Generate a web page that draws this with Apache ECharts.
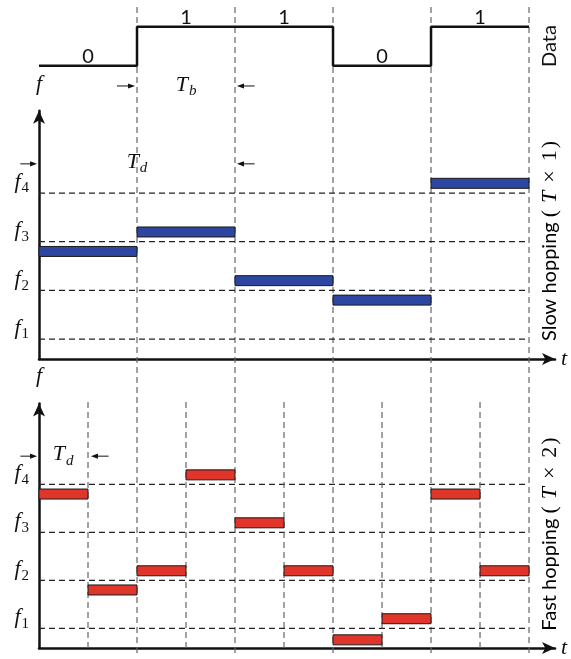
<!DOCTYPE html>
<html><head><meta charset="utf-8">
<script src="https://cdn.jsdelivr.net/npm/echarts@6/dist/echarts.min.js"></script>
<style>html,body{margin:0;padding:0;background:#fff}#c{width:571px;height:659px}</style>
</head><body><div id="c"></div>
<script>
// ---------------- data ----------------
const bits = [0, 1, 1, 0, 1];
const bitBoundaries = [1, 2, 3, 4, 5];
const halfBitBoundaries = [0.5, 1.5, 2.5, 3.5, 4.5];
const freqLevels = [1, 2, 3, 4];
const freqLabels = ['1', '2', '3', '4'];
const slowHopDuration = 1;
const slowHops = [2.8, 3.2, 2.2, 1.8, 4.2];
const fastHopDuration = 0.5;
const fastHops = [3.8, 1.8, 2.2, 4.2, 3.2, 2.2, 0.76, 1.2, 3.8, 2.2];
// annotation markers: [tFrom, tTo, level]
const tbArrows = [[0.796, 0.98, -0.52], [2.2, 2.02, -0.52]];
const tbText = [1.5, -0.52];
const slowTdArrows = [[-0.19, -0.02, 4.6], [2.2, 2.02, 4.6]];
const slowTdText = [1.0, 4.62];
const fastTdArrows = [[-0.19, -0.02, 4.59], [0.71, 0.53, 4.59]];
const fastTdText = [0.245, 4.6];

// ---------------- layout ----------------
const SERIF = '"Liberation Serif", "DejaVu Serif", serif';
const SANS = 'Lato, "Open Sans", sans-serif';
const X_MAX = 5.265;
const Y_MIN = 0.59, Y_MAX = 5.69;
const HALF_TOP = 5.72;
const LEFT = 39, RIGHT = 16;
const INK = '#111';

const mathRich = {
  i: { fontFamily: SERIF, fontStyle: 'italic', fontSize: 22, color: INK, lineHeight: 24, verticalAlign: 'top' },
  s: { fontFamily: SERIF, fontSize: 15, color: INK, lineHeight: 14, padding: [10, 0, 0, 1], verticalAlign: 'top' },
  si: { fontFamily: SERIF, fontStyle: 'italic', fontSize: 15, color: INK, lineHeight: 14, padding: [10, 0, 0, 1], verticalAlign: 'top' }
};
const sideRich = {
  a: { fontFamily: SANS, fontSize: 20, color: INK, padding: [0, 5, 0, 0] },
  b: { fontFamily: SERIF, fontSize: 22, color: INK },
  c: { fontFamily: SERIF, fontStyle: 'italic', fontSize: 22, color: INK, padding: [0, 8, 0, 7] },
  x: { fontFamily: SERIF, fontSize: 22, color: INK, padding: [0, 9, 0, 0] },
  e: { fontFamily: SERIF, fontSize: 22, color: INK, padding: [0, 0, 0, 2] }
};

const chart = echarts.init(document.getElementById('c'));

const axisLine = { show: true, onZero: false, lineStyle: { color: INK, width: 2.5 }, symbol: ['none', 'arrow'], symbolSize: [9, 13] };
function visX(gi) {
  return { gridIndex: gi, type: 'value', min: 0, max: X_MAX, axisLine, axisTick: { show: false }, axisLabel: { show: false }, splitLine: { show: false },
    name: 't', nameLocation: 'end', nameGap: 6, nameTextStyle: { fontFamily: SERIF, fontStyle: 'italic', fontSize: 22, color: INK } };
}
function visY(gi) {
  return { gridIndex: gi, type: 'value', min: Y_MIN, max: Y_MAX, axisLine, axisTick: { show: false }, axisLabel: { show: false }, splitLine: { show: false },
    name: 'f', nameLocation: 'end', nameGap: 16, nameTextStyle: { fontFamily: SERIF, fontStyle: 'italic', fontSize: 22, color: INK, align: 'center' } };
}
function hidden(gi, min, max) { return { gridIndex: gi, type: 'value', min, max, show: false }; }

function dashSeries(gi, items, stroke, z) {
  return { type: 'custom', xAxisIndex: gi, yAxisIndex: gi, data: items, z, silent: true, clip: false,
    renderItem: (p, api) => {
      const a = api.coord([api.value(0), api.value(1)]);
      const b = api.coord([api.value(2), api.value(3)]);
      return { type: 'line', shape: { x1: a[0], y1: a[1], x2: b[0], y2: b[1] },
        style: { stroke, lineWidth: 1.2, lineDash: [6, 4], fill: null } };
    } };
}
function barSeries(gi, hops, dur, fill) {
  return { type: 'custom', xAxisIndex: gi, yAxisIndex: gi, z: 3, silent: true, clip: false,
    data: hops.map((v, i) => [i * dur, (i + 1) * dur, v]),
    renderItem: (p, api) => {
      const a = api.coord([api.value(0), api.value(2)]);
      const b = api.coord([api.value(1), api.value(2)]);
      return { type: 'rect', shape: { x: a[0], y: a[1] - 5, width: b[0] - a[0], height: 10 },
        style: { fill, stroke: '#1a1a1a', lineWidth: 1 } };
    } };
}
function arrowSeries(gi, items) {
  return { type: 'custom', xAxisIndex: gi, yAxisIndex: gi, z: 4, silent: true, clip: false, data: items,
    renderItem: (p, api) => {
      const a = api.coord([api.value(0), api.value(2)]);
      const b = api.coord([api.value(1), api.value(2)]);
      const d = b[0] > a[0] ? 1 : -1;
      return { type: 'group', children: [
        { type: 'line', shape: { x1: a[0], y1: a[1], x2: b[0] - d * 5, y2: b[1] }, style: { stroke: INK, lineWidth: 1 } },
        { type: 'polygon', shape: { points: [[b[0], b[1]], [b[0] - d * 7, b[1] - 2.6], [b[0] - d * 7, b[1] + 2.6]] }, style: { fill: INK } }
      ] };
    } };
}
function textSeries(gi, items, textFn, opts) {
  return { type: 'custom', xAxisIndex: gi, yAxisIndex: gi, z: 5, silent: true, clip: false, data: items,
    renderItem: (p, api) => {
      const pt = api.coord([api.value(0), api.value(1)]);
      return { type: 'text', x: pt[0] + (opts.dx || 0), y: pt[1] + (opts.dy || 0),
        style: { text: textFn(p.dataIndex), rich: mathRich, align: opts.align || 'center', verticalAlign: opts.va || 'middle',
          fontFamily: opts.font || SERIF, fontSize: opts.size || 22, fill: INK } };
    } };
}
const levelLines = freqLevels.map(f => [0, f, bitBoundaries[bitBoundaries.length - 1], f]);
const fLabel = i => '{i|f}{s|' + freqLabels[i] + '}';

const dataLine = bits.map((b, i) => [i, b]).concat([[bits.length, bits[bits.length - 1]]]);

chart.setOption({
  animation: false,
  backgroundColor: '#fff',
  grid: [
    { left: LEFT, right: RIGHT, top: 26.7, height: 39 },
    { left: LEFT, right: RIGHT, top: 110.8, height: 248.2 },
    { left: LEFT, right: RIGHT, top: 403.4, height: 248.9 },
    { left: LEFT, right: RIGHT, top: 7, bottom: 6 }
  ],
  xAxis: [hidden(0, 0, X_MAX), visX(1), visX(2), hidden(3, 0, X_MAX)],
  yAxis: [hidden(0, 0, 1), visY(1), visY(2), hidden(3, 0, 1)],
  series: [
    { type: 'line', xAxisIndex: 0, yAxisIndex: 0, data: dataLine, step: 'end', showSymbol: false, symbol: 'none', clip: false,
      lineStyle: { color: INK, width: 2.5 }, z: 4 },
    textSeries(0, bits.map((b, i) => [i + 0.5, b]), i => String(bits[i]), { dy: -9, font: SANS, size: 20 }),
    dashSeries(3, bitBoundaries.map(b => [b, 0, b, 1]), '#666', 1),
    dashSeries(1, levelLines, '#222', 1),
    dashSeries(2, levelLines, '#222', 1),
    dashSeries(2, halfBitBoundaries.map(h => [h, Y_MIN, h, HALF_TOP]), '#666', 1),
    barSeries(1, slowHops, slowHopDuration, '#2d46a1'),
    barSeries(2, fastHops, fastHopDuration, '#e0352b'),
    textSeries(1, freqLevels.map(f => [0, f]), fLabel, { dx: -10, dy: 2, align: 'right', va: 'bottom' }),
    textSeries(2, freqLevels.map(f => [0, f]), fLabel, { dx: -10, dy: 2, align: 'right', va: 'bottom' }),
    arrowSeries(0, tbArrows),
    arrowSeries(1, slowTdArrows),
    arrowSeries(2, fastTdArrows),
    textSeries(0, [tbText], () => '{i|T}{si|b}', {}),
    textSeries(1, [slowTdText], () => '{i|T}{si|d}', {}),
    textSeries(2, [fastTdText], () => '{i|T}{si|d}', {})
  ],
  graphic: [
    { type: 'text', x: 550, y: 46, rotation: Math.PI / 2, z: 10,
      style: { text: 'Data', fontFamily: SANS, fontSize: 20, fill: INK, align: 'center', verticalAlign: 'middle' } },
    { type: 'text', x: 550, y: 241, rotation: Math.PI / 2, z: 10,
      style: { text: '{a|Slow hopping}{b|(}{c|T}{x|×}{b|1}{e|)}', align: 'center', verticalAlign: 'middle', rich: sideRich } },
    { type: 'text', x: 550, y: 534, rotation: Math.PI / 2, z: 10,
      style: { text: '{a|Fast hopping}{b|(}{c|T}{x|×}{b|2}{e|)}', align: 'center', verticalAlign: 'middle', rich: sideRich } }
  ]
});
</script></body></html>
